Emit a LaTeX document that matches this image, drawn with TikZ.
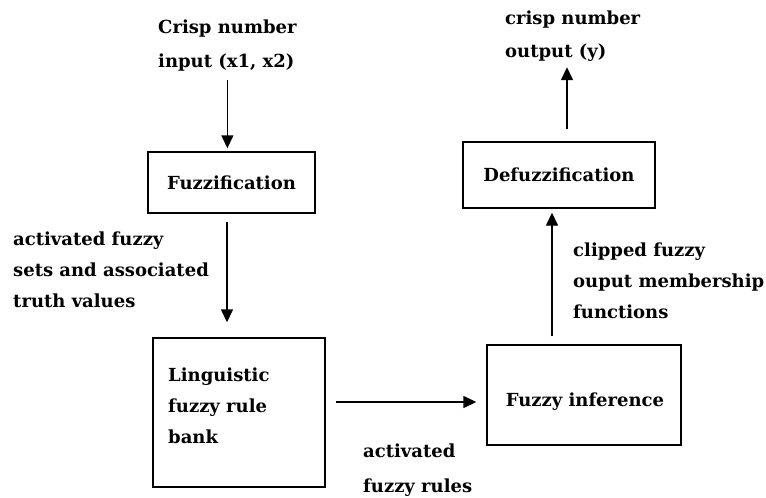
\documentclass[tikz,border=0pt]{standalone}
\usepackage{fontspec}
\setmainfont{DejaVu Serif}
\usetikzlibrary{arrows.meta}
\begin{document}
\begin{tikzpicture}[x=1pt,y=-1pt,
  box/.style={draw, line width=1.4pt, inner sep=0pt, font=\bfseries\fontsize{18}{31}\selectfont},
  lbl/.style={align=left, inner sep=0pt, anchor=west, font=\bfseries\fontsize{18}{31}\selectfont},
  arr/.style={line width=1.4pt, -{Triangle[length=13pt,width=12pt]}}]
\useasboundingbox (0,0) rectangle (766,498);
% boxes
\node[box, minimum width=167pt, minimum height=61pt] (fuzz) at (231.5,182.5) {Fuzzification};
\node[box, minimum width=192pt, minimum height=66pt] (defuzz) at (559,175) {Defuzzification};
\node[box, minimum width=172pt, minimum height=149pt] (ling) at (239,412.5) {};
\node[box, minimum width=194pt, minimum height=100pt] (inf) at (584,395) {};
\node[lbl] (lingtext) at (168,406.5) {\strut Linguistic\\\strut fuzzy rule\\\strut bank};
\node[lbl, anchor=center] (inftext) at (585,402) {Fuzzy inference};
% labels
\node[lbl, font=\bfseries\fontsize{18}{34}\selectfont] (intext) at (158,43.5) {\strut Crisp number\\\strut input (x1, x2)};
\node[lbl, font=\bfseries\fontsize{18}{33}\selectfont] (outtext) at (505,34) {\strut crisp number\\\strut output (y)};
\node[lbl] (acttext) at (13,270.5) {\strut activated fuzzy\\\strut sets and associated\\\strut truth values};
\node[lbl] (cliptext) at (573,281.5) {\strut clipped fuzzy\\\strut ouput membership\\\strut functions};
\node[lbl, font=\bfseries\fontsize{18}{35}\selectfont] (rulestext) at (363,467.5) {\strut activated\\\strut fuzzy rules};
% arrows
\draw[arr, shorten <=2pt, shorten >=3pt] (intext.south) -- (intext.south |- fuzz.north);
\draw[arr, shorten <=8pt, shorten >=15pt] ([xshift=-4.5pt]fuzz.south) -- ([xshift=-4.5pt]fuzz.south |- ling.north);
\draw[arr, shorten <=10pt, shorten >=10pt] ([yshift=10.5pt]ling.east) -- ([yshift=10.5pt]ling.east -| inf.west);
\draw[arr, shorten <=8pt, shorten >=4pt] ([xshift=-32pt]inf.north) -- ([xshift=-32pt]inf.north |- defuzz.south);
\draw[arr, shorten <=12pt] ([xshift=8pt]defuzz.north) -- ([xshift=8pt]defuzz.north |- outtext.south);
\end{tikzpicture}
\end{document}
